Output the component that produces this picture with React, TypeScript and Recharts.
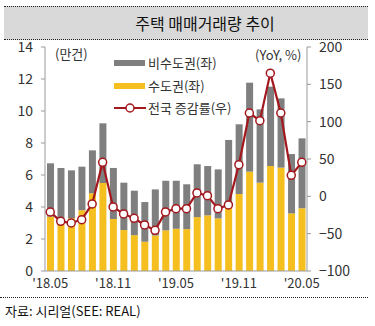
import React from 'react';
import { ComposedChart, Bar, Line, XAxis, YAxis } from 'recharts';

const months = ["'18.05","'18.06","'18.07","'18.08","'18.09","'18.10","'18.11","'18.12","'19.01","'19.02","'19.03","'19.04","'19.05","'19.06","'19.07","'19.08","'19.09","'19.10","'19.11","'19.12","'20.01","'20.02","'20.03","'20.04","'20.05"];
const capital = [3.4, 3.1, 3.3, 3.8, 4.86, 5.5, 3.25, 2.56, 2.24, 1.83, 2.22, 2.54, 2.64, 2.62, 3.37, 3.48, 3.29, 4.02, 4.81, 6.21, 5.52, 6.56, 6.46, 3.6, 3.92];
const nonCapital = [3.33, 3.34, 2.99, 2.72, 2.68, 3.73, 3.19, 2.96, 2.78, 2.48, 2.88, 3.1, 3.0, 2.8, 3.3, 3.08, 3.06, 4.17, 4.36, 5.56, 4.58, 4.96, 4.33, 3.71, 4.37];
const yoy = [-21, -33.5, -35.7, -31.2, -10.2, 45.5, -14.2, -23.6, -29.4, -38.3, -45.5, -20.9, -16.5, -16.5, 4.5, 0.9, -16.5, -11.5, 42.4, 111.6, 101.3, 165, 111.6, 28.1, 45.5];
const leftTicks = [0, 2, 4, 6, 8, 10, 12, 14];
const rightTicks = [-100, -50, 0, 50, 100, 150, 200];
const legendLabels = ['비수도권(좌)', '수도권(좌)', '전국 증감률(우)'];

const data = months.map((m, i) => ({ month: m, idx: i, capital: capital[i], nonCapital: nonCapital[i], yoy: yoy[i] }));
const boundaryTicks = [...months.map((_, i) => i - 0.5), months.length - 0.5];

const FONT = '"Noto Sans CJK KR", "Noto Sans", sans-serif';
const GRAY = '#7f7f7f';
const YELLOW = '#f4bf1f';
const RED = '#a3181e';
const AXIS = '#9a9a9a';
const TEXT = '#333333';

const NoTick = () => <g />;

const LegendBox = () => (
  <div style={{ position: 'absolute', left: 114, top: 52, fontFamily: FONT, fontSize: 13, color: TEXT, lineHeight: '22.5px' }}>
    <div style={{ display: 'flex', alignItems: 'center' }}>
      <span style={{ display: 'inline-block', width: 31, height: 6, background: GRAY, marginRight: 3 }} />
      <span>{legendLabels[0]}</span>
    </div>
    <div style={{ display: 'flex', alignItems: 'center' }}>
      <span style={{ display: 'inline-block', width: 31, height: 6, background: YELLOW, marginRight: 3 }} />
      <span>{legendLabels[1]}</span>
    </div>
    <div style={{ display: 'flex', alignItems: 'center' }}>
      <svg width={32} height={10} style={{ marginRight: 2 }}>
        <line x1={0} y1={5} x2={32} y2={5} stroke={RED} strokeWidth={2} />
        <circle cx={16} cy={5} r={4} fill="#fff" stroke={RED} strokeWidth={1.5} />
      </svg>
      <span>{legendLabels[2]}</span>
    </div>
  </div>
);

export default function App() {
  return (
    <div style={{ position: 'absolute', left: 0, top: 0, width: 375, height: 326, background: '#fff', fontFamily: FONT }}>
      <div style={{ position: 'absolute', left: 4, top: 6, width: 364, height: 32, background: '#d9d9d9', borderTop: '1px dotted #222', borderBottom: '1px dotted #222' }} />
      <div style={{ position: 'absolute', left: 40, top: 8, width: 330, height: 30, lineHeight: '30px', textAlign: 'center', fontSize: 16, color: '#111' }}>주택 매매거래량 추이</div>
      <div style={{ position: 'absolute', left: 0, top: 297, width: 368, borderTop: '1px dotted #222' }} />
      <div style={{ position: 'absolute', left: 5, top: 302, fontSize: 13, color: '#111', lineHeight: '18px' }}>자료: 시리얼(SEE: REAL)</div>
      <div style={{ position: 'absolute', left: 0, top: 0 }}>
        <ComposedChart width={375} height={326} data={data} margin={{ top: 47, right: 0, left: 0, bottom: 30 }} barCategoryGap={0}>
          <XAxis xAxisId="t" type="number" dataKey="idx" domain={[-0.5, months.length - 0.5]} ticks={boundaryTicks} tick={NoTick} tickSize={4} tickLine={{ stroke: AXIS }} axisLine={false} height={0} allowDataOverflow />
          <XAxis xAxisId="c" dataKey="month" interval={5} tickLine={false} tickSize={0} tickMargin={8} axisLine={{ stroke: AXIS }} height={25} tick={{ fontSize: 13, fill: TEXT, fontFamily: FONT }} />
          <YAxis yAxisId="l" domain={[0, 14]} ticks={leftTicks} width={45} tickSize={4} tickMargin={8} axisLine={{ stroke: AXIS }} tickLine={{ stroke: AXIS }} tick={{ fontSize: 14, fill: TEXT, fontFamily: FONT }} interval={0} />
          <YAxis yAxisId="r" orientation="right" domain={[-100, 200]} ticks={rightTicks} width={68} tickSize={4} tickMargin={8} axisLine={{ stroke: AXIS }} tickLine={{ stroke: AXIS }} tick={{ fontSize: 14, fill: TEXT, fontFamily: FONT }} interval={0} tickFormatter={(v: number) => (v < 0 ? `\u2212${Math.abs(v)}` : `${v}`)} />
          <Bar xAxisId="c" yAxisId="l" dataKey="capital" stackId="a" fill={YELLOW} barSize={7} isAnimationActive={false} />
          <Bar xAxisId="c" yAxisId="l" dataKey="nonCapital" stackId="a" fill={GRAY} barSize={7} isAnimationActive={false} />
          <Line xAxisId="c" yAxisId="r" dataKey="yoy" stroke={RED} strokeWidth={2.2} dot={{ r: 4, fill: '#fff', stroke: RED, strokeWidth: 1.5 }} isAnimationActive={false} />
        </ComposedChart>
      </div>
      <div style={{ position: 'absolute', left: 55, top: 44, fontSize: 13, color: TEXT, lineHeight: '20px' }}>(만건)</div>
      <div style={{ position: 'absolute', left: 255, top: 45, fontSize: 13, color: TEXT, lineHeight: '20px' }}>(YoY, %)</div>
      <LegendBox />
    </div>
  );
}
